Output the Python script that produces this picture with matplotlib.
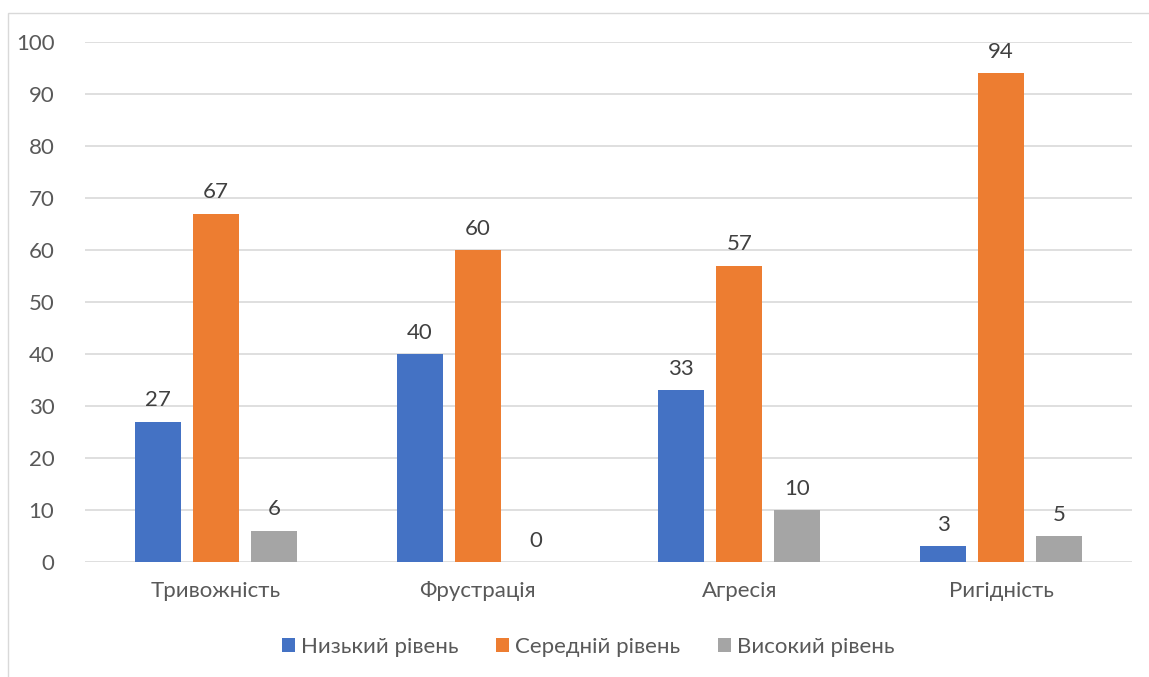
import matplotlib
matplotlib.use("Agg")
import matplotlib.pyplot as plt
from matplotlib.patches import Rectangle
import numpy as np

categories = ["Тривожність", "Фрустрація", "Агресія", "Ригідність"]
series_names = ["Низький рівень", "Середній рівень", "Високий рівень"]
low = [27, 40, 33, 3]
mid = [67, 60, 57, 94]
high = [6, 0, 10, 5]
colors = ["#4472C4", "#ED7D31", "#A5A5A5"]
yticks = [0, 10, 20, 30, 40, 50, 60, 70, 80, 90, 100]

plt.rcParams["font.family"] = ["Lato", "DejaVu Sans"]
text_color = "#595959"
fs = 16

W, H = 1149, 677
fig = plt.figure(figsize=(W / 100, H / 100), dpi=100)

# chart frame
fig.patches.append(Rectangle((8 / W, -0.05), 1.2, 1 - 13 / H + 0.05,
                             transform=fig.transFigure, fill=False,
                             edgecolor="#D9D9D9", linewidth=1.0))

ax = fig.add_axes([85 / W, 1 - 562 / H, (1132 - 85) / W, (562 - 42) / H])

x = np.arange(len(categories))
width = 0.176
step = 0.2216
for i, (vals, name, c) in enumerate(zip([low, mid, high], series_names, colors)):
    pos = x + (i - 1) * step
    bars = ax.bar(pos, vals, width, color=c, label=name, zorder=3)
    for b, v in zip(bars, vals):
        ax.text(b.get_x() + b.get_width() / 2, v + 2.2, f"{v}",
                ha="center", va="bottom", fontsize=fs, color="#404040")

ax.set_xlim(-0.5, len(categories) - 0.5)
ax.set_ylim(0, 100)
ax.set_yticks(yticks)
ax.set_xticks(x)
ax.set_xticklabels(categories)
ax.tick_params(axis="both", length=0, labelsize=fs, colors=text_color)
ax.tick_params(axis="x", pad=14)
ax.tick_params(axis="y", pad=22)
ax.grid(axis="y", color="#D9D9D9", linewidth=1.2, zorder=0)
for s in ax.spines.values():
    s.set_visible(False)

leg = fig.legend(loc="center", bbox_to_anchor=(588 / W, 1 - 647 / H), ncol=3,
                 frameon=False, fontsize=fs, handlelength=0.6, handleheight=0.6,
                 handletextpad=0.25, columnspacing=1.7)
for t in leg.get_texts():
    t.set_color(text_color)

fig.savefig("out.png", dpi=100)
